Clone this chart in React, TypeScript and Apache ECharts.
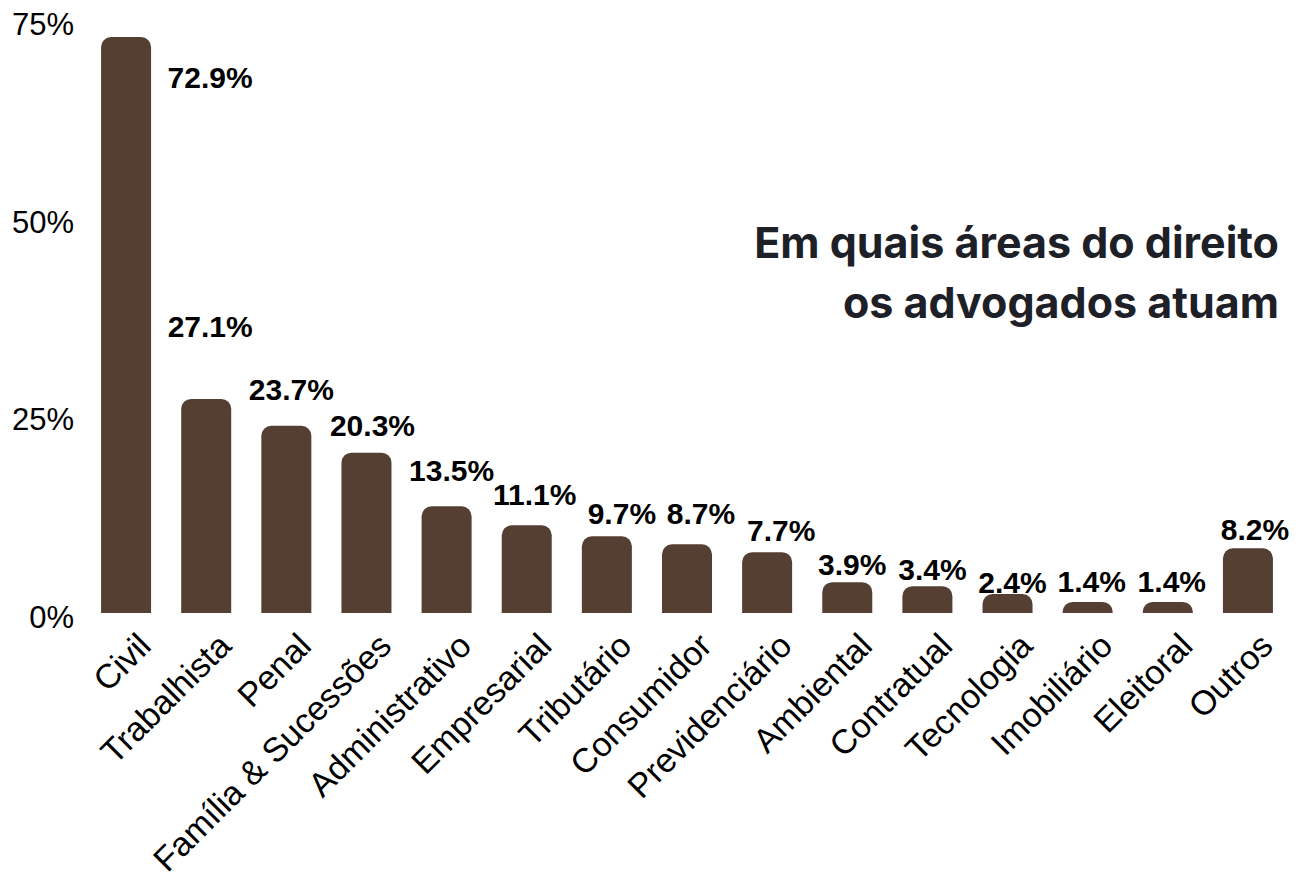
import React, { useEffect, useRef } from "react";
import * as echarts from "echarts";

const categories = [
  "Civil",
  "Trabalhista",
  "Penal",
  "Família & Sucessões",
  "Administrativo",
  "Empresarial",
  "Tributário",
  "Consumidor",
  "Previdenciário",
  "Ambiental",
  "Contratual",
  "Tecnologia",
  "Imobiliário",
  "Eleitoral",
  "Outros",
];
const values = [72.9, 27.1, 23.7, 20.3, 13.5, 11.1, 9.7, 8.7, 7.7, 3.9, 3.4, 2.4, 1.4, 1.4, 8.2];
const yMax = 75;
const yInterval = 25;
const titleLines = ["Em quais áreas do direito", "os advogados atuam"];

// label placement tweaks (style only)
const labelOffsets: [number, number][] = [
  [84, 55],
  [4, -57],
  [5, -21],
  [6, -12],
  [5, -21],
  [8, -16],
  [15, -8],
  [14, -16],
  [14, -7],
  [5, -3],
  [5, -2],
  [5, 3],
  [4, -5],
  [4, -5],
  [7, -4],
];

const BAR_COLOR = "#553F32";

export default function App() {
  const ref = useRef<HTMLDivElement>(null);
  useEffect(() => {
    document.body.style.margin = "0";
    if (!ref.current) return;
    const chart = echarts.init(ref.current, null, { renderer: "svg" });
    chart.setOption({
      animation: false,
      backgroundColor: "#ffffff",
      grid: {
        left: 86,
        right: 15,
        top: 20.5,
        bottom: 271,
        containLabel: false,
        outerBoundsMode: "none",
      },
      xAxis: {
        type: "category",
        data: categories,
        axisLine: { show: false },
        axisTick: { show: false },
        axisLabel: {
          interval: 0,
          rotate: 45,
          margin: 8,
          verticalAlign: "top",
          lineHeight: 52,
          fontSize: 34,
          fontFamily: "Liberation Sans",
          color: "#000000",
        },
      },
      yAxis: {
        type: "value",
        min: 0,
        max: yMax,
        interval: yInterval,
        axisLine: { show: false },
        axisTick: { show: false },
        splitLine: { show: false },
        axisLabel: {
          formatter: "{value}%",
          fontSize: 31,
          fontFamily: "Liberation Sans",
          color: "#000000",
          margin: 12,
          verticalAlign: "top",
          lineHeight: 8,
        },
      },
      series: [
        {
          type: "bar",
          barWidth: 50,
          data: values.map((v, i) => ({
            value: v,
            label: { offset: labelOffsets[i] },
          })),
          itemStyle: { color: BAR_COLOR, borderRadius: [10, 10, 0, 0] },
          label: {
            show: true,
            position: "top",
            distance: 0,
            formatter: (p: any) => `${p.value.toFixed(1)}%`,
            fontSize: 30,
            lineHeight: 30,
            fontWeight: "bold",
            fontFamily: "Liberation Sans",
            color: "#000000",
          },
        },
      ],
      graphic: [
        {
          type: "text",
          right: 24,
          top: 212,
          style: {
            text: titleLines.join("\n"),
            fontSize: 43,
            lineHeight: 60,
            fontWeight: 700,
            fontFamily: "Inter",
            fill: "#1E2028",
            align: "right",
            textAlign: "right",
          },
        },
      ],
    });
    return () => chart.dispose();
  }, []);
  return <div ref={ref} style={{ width: 1303, height: 884 }} />;
}
